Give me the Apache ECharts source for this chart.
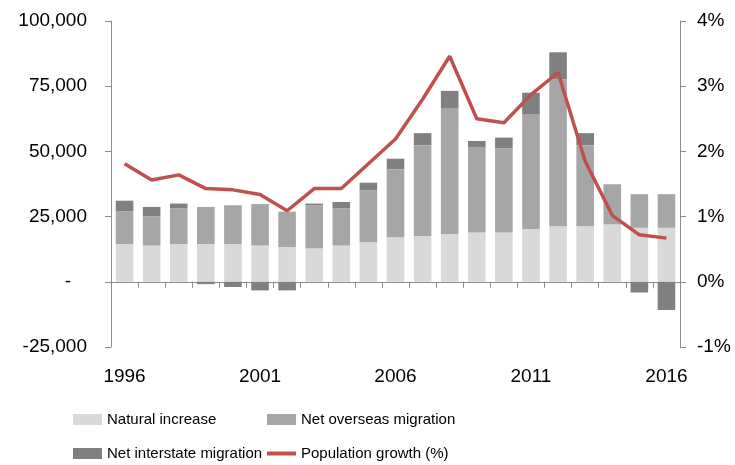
<!DOCTYPE html>
<html>
<head>
<meta charset="utf-8">
<script src="https://cdn.jsdelivr.net/npm/echarts@6/dist/echarts.min.js"></script>
<style>
  html, body { margin: 0; padding: 0; background: #fff; }
  #chart { width: 735px; height: 465px; }
</style>
</head>
<body>
<div id="chart"></div>
<script>
var years = ["1996", "1997", "1998", "1999", "2000", "2001", "2002", "2003", "2004", "2005", "2006",
             "2007", "2008", "2009", "2010", "2011", "2012", "2013", "2014", "2015", "2016"];
var natural = [14500, 13900, 14500, 14500, 14500, 13900, 13300, 12800, 13900, 15200, 17100,
               17600, 18300, 18900, 18900, 20200, 21300, 21300, 22000, 20700, 20700];
var overseas = [12500, 11200, 13700, 14200, 14850, 15900, 13600, 16550, 14300, 19900, 26000,
                34800, 48200, 32800, 32300, 43900, 56300, 31100, 15400, 12900, 12900];
var interstate = [4100, 3600, 1800, -900, -2000, -3300, -3300, 650, 2400, 2900, 4100,
                  4600, 6700, 2300, 4100, 8400, 10400, 4600, 0, -4100, -10800];
var growth = [1.81, 1.56, 1.64, 1.43, 1.41, 1.34, 1.09, 1.43, 1.43, 1.81, 2.19,
              2.80, 3.46, 2.50, 2.44, 2.87, 3.21, 1.85, 1.02, 0.72, 0.67];

var font = 'Liberation Sans, Arial, sans-serif';
var axisColor = '#8c8c8c';

function legendAt(name, left, top, icon, h) {
  return {
    data: [{ name: name, icon: icon }],
    left: left,
    top: top,
    padding: 0,
    itemWidth: 29,
    itemHeight: h,
    itemGap: 5,
    textStyle: { fontFamily: font, fontSize: 15, color: '#000' }
  };
}

var chart = echarts.init(document.getElementById('chart'));
chart.setOption({
  animation: false,
  textStyle: { fontFamily: font },
  grid: { left: 111, right: 55, top: 21, bottom: 118 },
  legend: [
    legendAt('Natural increase', 73, 412, 'rect', 11),
    legendAt('Net overseas migration', 267, 412, 'rect', 11),
    legendAt('Net interstate migration', 73, 446, 'rect', 11),
    legendAt('Population growth (%)', 267, 446, 'rect', 4)
  ],
  xAxis: {
    type: 'category',
    data: years,
    axisLine: { onZero: true, lineStyle: { color: axisColor, width: 1 } },
    axisTick: { show: true, interval: 0, length: 6, lineStyle: { color: axisColor } },
    axisLabel: { interval: 4, margin: 20, fontSize: 19, color: '#000', fontFamily: font },
    splitLine: { show: false }
  },
  yAxis: [{
    type: 'value',
    min: -25000,
    max: 100000,
    interval: 25000,
    position: 'left',
    axisLine: { show: true, lineStyle: { color: axisColor } },
    axisTick: { show: true, length: 6, lineStyle: { color: axisColor } },
    axisLabel: {
      margin: 24, fontSize: 19, color: '#000', fontFamily: font,
      formatter: function (v) { return v === 0 ? '-   ' : v.toLocaleString('en-US'); }
    },
    splitLine: { show: false }
  }, {
    type: 'value',
    min: -1,
    max: 4,
    interval: 1,
    position: 'right',
    axisLine: { show: true, lineStyle: { color: axisColor } },
    axisTick: { show: true, length: 6, lineStyle: { color: axisColor } },
    axisLabel: {
      margin: 17, fontSize: 19, color: '#000', fontFamily: font,
      formatter: function (v) { return v + '%'; }
    },
    splitLine: { show: false }
  }],
  series: [{
    name: 'Natural increase',
    type: 'bar',
    stack: 'pop',
    barCategoryGap: '35%',
    itemStyle: { color: '#d9d9d9' },
    data: natural
  }, {
    name: 'Net overseas migration',
    type: 'bar',
    stack: 'pop',
    itemStyle: { color: '#a6a6a6' },
    data: overseas
  }, {
    name: 'Net interstate migration',
    type: 'bar',
    stack: 'pop',
    itemStyle: { color: '#808080' },
    data: interstate
  }, {
    name: 'Population growth (%)',
    type: 'line',
    yAxisIndex: 1,
    symbol: 'none',
    z: 5,
    lineStyle: { color: '#c0504d', width: 3.5 },
    itemStyle: { color: '#c0504d' },
    data: growth
  }]
});
</script>
</body>
</html>
